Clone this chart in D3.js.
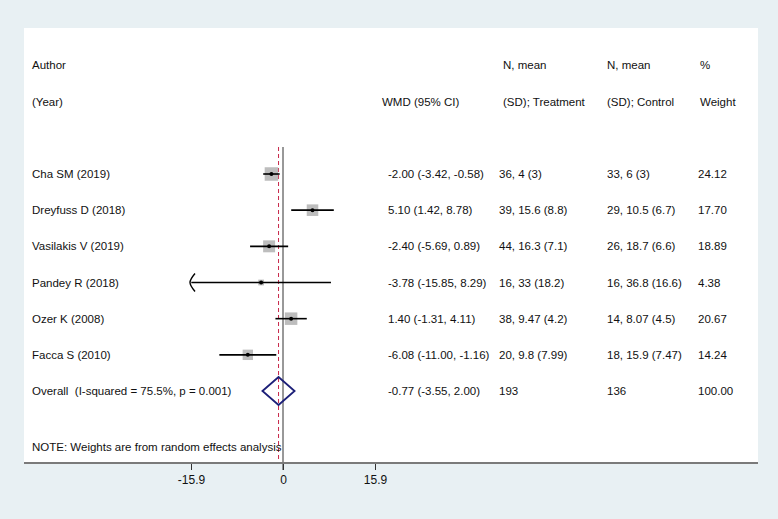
<!DOCTYPE html>
<html>
<head>
<meta charset="utf-8">
<script src="https://cdn.jsdelivr.net/npm/d3@7"></script>
<style>
  html, body { margin: 0; padding: 0; background: #e8f0f3; }
  svg { display: block; }
  text { font-family: "Liberation Sans", Arial, sans-serif; fill: #111; }
</style>
</head>
<body>
<svg id="chart" width="778" height="519"></svg>
<script>
// ---- data ----
const studies = ["Cha SM (2019)", "Dreyfuss D (2018)", "Vasilakis V (2019)", "Pandey R (2018)", "Ozer K (2008)", "Facca S (2010)"];
const wmd = [-2.00, 5.10, -2.40, -3.78, 1.40, -6.08];
const ciLow = [-3.42, 1.42, -5.69, -15.85, -1.31, -11.00];
const ciHigh = [-0.58, 8.78, 0.89, 8.29, 4.11, -1.16];
const weights = [24.12, 17.70, 18.89, 4.38, 20.67, 14.24];
const treatment = ["36, 4 (3)", "39, 15.6 (8.8)", "44, 16.3 (7.1)", "16, 33 (18.2)", "38, 9.47 (4.2)", "20, 9.8 (7.99)"];
const control = ["33, 6 (3)", "29, 10.5 (6.7)", "26, 18.7 (6.6)", "16, 36.8 (16.6)", "14, 8.07 (4.5)", "18, 15.9 (7.47)"];
const overallLabel = "Overall  (I-squared = 75.5%, p = 0.001)";
const overallEst = -0.77, overallLow = -3.55, overallHigh = 2.00;
const overallTreatN = "193", overallControlN = "136", overallWeight = "100.00";
const axisTicks = [-15.9, 0, 15.9];
const axisDomain = [-15.9, 15.9];
const noteText = "NOTE: Weights are from random effects analysis";

// ---- layout ----
const svg = d3.select("#chart");
const W = 778, H = 519;
const panel = {x0: 24, x1: 758, y0: 28, y1: 463};
const fs = 11.5;
const f2 = d3.format(".2f");
const fmt = v => f2(v).replace("−", "-");

svg.append("rect").attr("x", 0).attr("y", 0).attr("width", W).attr("height", H).attr("fill", "#e8f0f3");
svg.append("rect").attr("x", panel.x0).attr("y", panel.y0)
  .attr("width", panel.x1 - panel.x0).attr("height", panel.y1 - panel.y0).attr("fill", "#ffffff");

const x = d3.scaleLinear().domain(axisDomain).range([191, 375]);
const rows = d3.range(studies.length + 1);
const y = d3.scalePoint().domain(rows).range([174, 391]);

const colX = {label: 32, wmd: 388, treat: 499, control: 607, weight: 698};

// headers
const hdr = svg.append("g").attr("font-size", fs);
const h1 = 65, h2 = 102;
const headers = [
  {t: "Author", x: colX.label, y: h1},
  {t: "(Year)", x: colX.label, y: h2},
  {t: "WMD (95% CI)", x: 382, y: h2},
  {t: "N, mean", x: 503, y: h1},
  {t: "(SD); Treatment", x: 503, y: h2},
  {t: "N, mean", x: 607, y: h1},
  {t: "(SD); Control", x: 607, y: h2},
  {t: "%", x: 700, y: h1},
  {t: "Weight", x: 700, y: h2}
];
hdr.selectAll("text").data(headers).join("text")
  .attr("x", d => d.x).attr("y", d => d.y).attr("dy", "0.35em").text(d => d.t);

// vertical lines
const lineTop = 147;
svg.append("line").attr("x1", x(0)).attr("x2", x(0)).attr("y1", lineTop).attr("y2", panel.y1 + 7)
  .attr("stroke", "#333").attr("stroke-width", 1);
svg.append("line").attr("x1", x(overallEst)).attr("x2", x(overallEst)).attr("y1", lineTop).attr("y2", panel.y1)
  .attr("stroke", "#c8284a").attr("stroke-width", 1).attr("stroke-dasharray", "4,3");

// study rows
const boxK = 2.75;
const g = svg.append("g");
studies.forEach((s, i) => {
  const yy = y(i);
  const lo = Math.max(ciLow[i], axisDomain[0]);
  const hi = Math.min(ciHigh[i], axisDomain[1]);
  const side = boxK * Math.sqrt(weights[i]);
  g.append("rect").attr("x", x(wmd[i]) - side / 2).attr("y", yy - side / 2)
    .attr("width", side).attr("height", side).attr("fill", "#bdbdbd");
  g.append("line").attr("x1", x(lo)).attr("x2", x(hi)).attr("y1", yy).attr("y2", yy)
    .attr("stroke", "#000").attr("stroke-width", 1.6);
  if (ciLow[i] <= axisDomain[0] + 0.1) {
    const ax = x(axisDomain[0]);
    g.append("path").attr("d", `M${ax + 4},${yy - 9} Q${ax - 1},${yy - 3} ${ax - 1},${yy} Q${ax - 1},${yy + 3} ${ax + 4},${yy + 9}`)
      .attr("fill", "none").attr("stroke", "#000").attr("stroke-width", 1.4);
  }
  g.append("circle").attr("cx", x(wmd[i])).attr("cy", yy).attr("r", 2).attr("fill", "#000");

  const t = g.append("g").attr("font-size", fs);
  t.append("text").attr("x", colX.label).attr("y", yy).attr("dy", "0.35em").text(s);
  t.append("text").attr("x", colX.wmd).attr("y", yy).attr("dy", "0.35em")
    .text(`${fmt(wmd[i])} (${fmt(ciLow[i])}, ${fmt(ciHigh[i])})`);
  t.append("text").attr("x", colX.treat).attr("y", yy).attr("dy", "0.35em").text(treatment[i]);
  t.append("text").attr("x", colX.control).attr("y", yy).attr("dy", "0.35em").text(control[i]);
  t.append("text").attr("x", colX.weight).attr("y", yy).attr("dy", "0.35em").text(f2(weights[i]));
});

// overall
const oy = y(studies.length);
const dh = 14;
svg.append("path")
  .attr("d", `M${x(overallLow)},${oy} L${x(overallEst)},${oy - dh} L${x(overallHigh)},${oy} L${x(overallEst)},${oy + dh} Z`)
  .attr("fill", "none").attr("stroke", "#1c1f78").attr("stroke-width", 1.8);
const ot = svg.append("g").attr("font-size", fs);
ot.append("text").attr("x", colX.label).attr("y", oy).attr("dy", "0.35em").style("white-space", "pre").text(overallLabel);
ot.append("text").attr("x", colX.wmd).attr("y", oy).attr("dy", "0.35em")
  .text(`${fmt(overallEst)} (${fmt(overallLow)}, ${fmt(overallHigh)})`);
ot.append("text").attr("x", colX.treat).attr("y", oy).attr("dy", "0.35em").text(overallTreatN);
ot.append("text").attr("x", colX.control).attr("y", oy).attr("dy", "0.35em").text(overallControlN);
ot.append("text").attr("x", colX.weight).attr("y", oy).attr("dy", "0.35em").text(overallWeight);

// note
svg.append("text").attr("x", colX.label).attr("y", 447).attr("dy", "0.35em").attr("font-size", fs).text(noteText);

// axis
const axisG = svg.append("g").attr("transform", `translate(0,${panel.y1})`)
  .call(d3.axisBottom(x).tickValues(axisTicks).tickSize(7).tickPadding(5)
    .tickFormat(d => d === 0 ? "0" : d3.format(".1f")(d).replace("−", "-")));
axisG.select(".domain").remove();
axisG.selectAll(".tick line").attr("stroke", "#333");
axisG.selectAll(".tick text").attr("font-size", 12).attr("font-family", "Liberation Sans, Arial, sans-serif").attr("fill", "#111");
svg.append("line").attr("x1", panel.x0).attr("x2", panel.x1).attr("y1", panel.y1).attr("y2", panel.y1)
  .attr("stroke", "#7a7a7a").attr("stroke-width", 2);
</script>
</body>
</html>
